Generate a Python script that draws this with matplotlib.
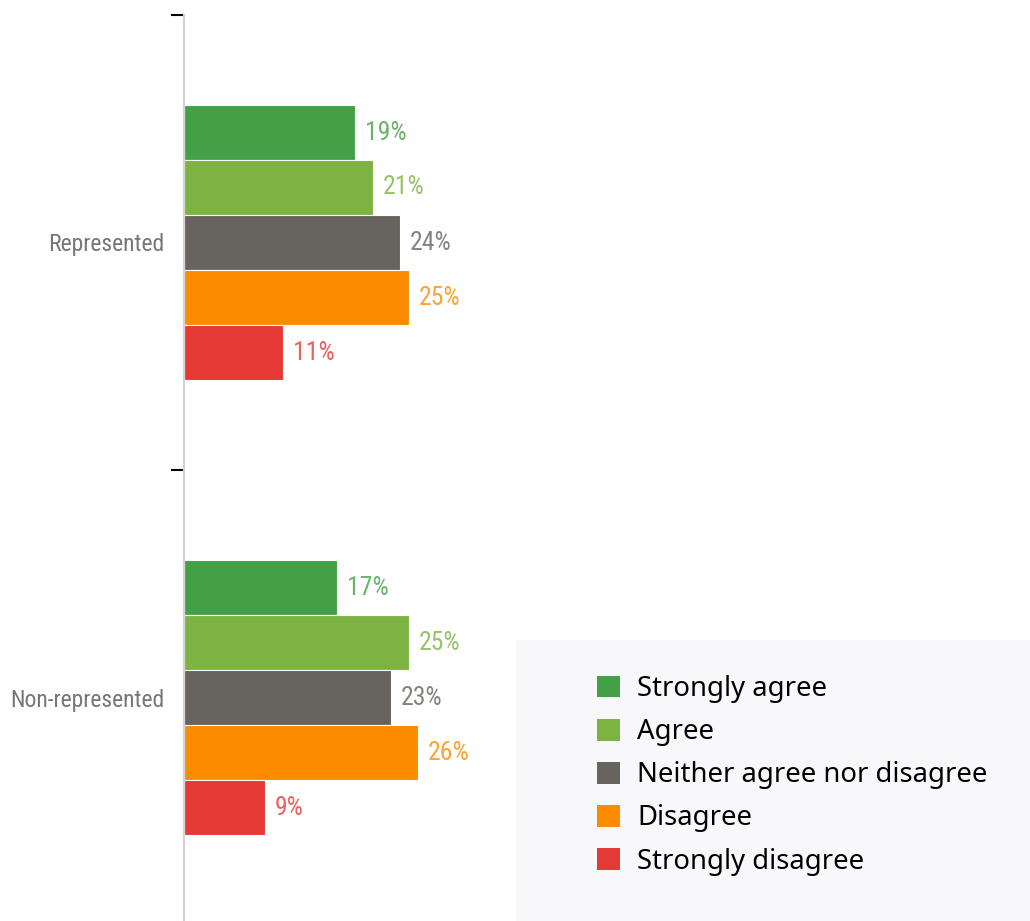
import matplotlib
matplotlib.use('Agg')
import matplotlib.pyplot as plt
from matplotlib import font_manager
from matplotlib.patches import Rectangle, Patch
from matplotlib.colors import to_rgba

groups = ['Represented', 'Non-represented']
answers = ['Strongly agree', 'Agree', 'Neither agree nor disagree', 'Disagree', 'Strongly disagree']
represented = [19, 21, 24, 25, 11]
non_represented = [17, 25, 23, 26, 9]
colors = ['#43a047', '#7cb342', '#67635e', '#fb8c00', '#e53935']

# pick a narrow face if one is around
names = {f.name for f in font_manager.fontManager.ttflist}
narrow = [n for n in ['DejaVu Sans Condensed', 'Roboto Condensed', 'Liberation Sans Narrow']
          if n in names] + ['Roboto']

fig = plt.figure(figsize=(10.30, 9.21), dpi=100)
ax = fig.add_axes([184 / 1030, -4 / 921, 846 / 1030, 910 / 921])

bar_h = 55 / 455
for g, vals in enumerate([represented, non_represented]):
    center = g + 0.5
    for i, v in enumerate(vals):
        y = center + (i - 2) * bar_h
        ax.barh(y, v, height=bar_h, color=colors[i], edgecolor='white', linewidth=0.8)
        ax.annotate(f'{v}%', xy=(v, y), xytext=(7, 0), textcoords='offset points',
                    va='center', ha='left', fontsize=18.5, family=narrow,
                    color=to_rgba(colors[i], 0.8))

ax.set_xlim(0, 94)
ax.set_ylim(2, 0)
ax.set_xticks([])

ax.set_yticks([0, 1])
ax.set_yticklabels(['', ''])
ax.tick_params(axis='y', which='major', length=9.5, width=1.5, color='black')
ax.set_yticks([0.5, 1.5], minor=True)
ax.set_yticklabels(groups, minor=True, fontsize=17, family=narrow, color='#777777')
ax.tick_params(axis='y', which='minor', length=0, pad=14)

for s in ['top', 'right', 'bottom']:
    ax.spines[s].set_visible(False)
ax.spines['left'].set_color('#d4d4d4')
ax.spines['left'].set_linewidth(1.6)

# legend panel
fig.patches.append(Rectangle((516 / 1030, 0), 514 / 1030, 281 / 921,
                             transform=fig.transFigure, facecolor='#f8f8fa',
                             edgecolor='none', zorder=0))
handles = [Patch(facecolor=c, edgecolor='none') for c in colors]
fig.legend(handles, answers, loc='upper left', bbox_to_anchor=(597 / 1030, 1 - 675 / 921),
           frameon=False, prop={'family': 'Noto Sans', 'size': 19.8},
           handlelength=0.85, handleheight=0.85, handletextpad=0.6,
           labelspacing=0.55, borderaxespad=0, borderpad=0)

fig.savefig('out.png', dpi=100)
